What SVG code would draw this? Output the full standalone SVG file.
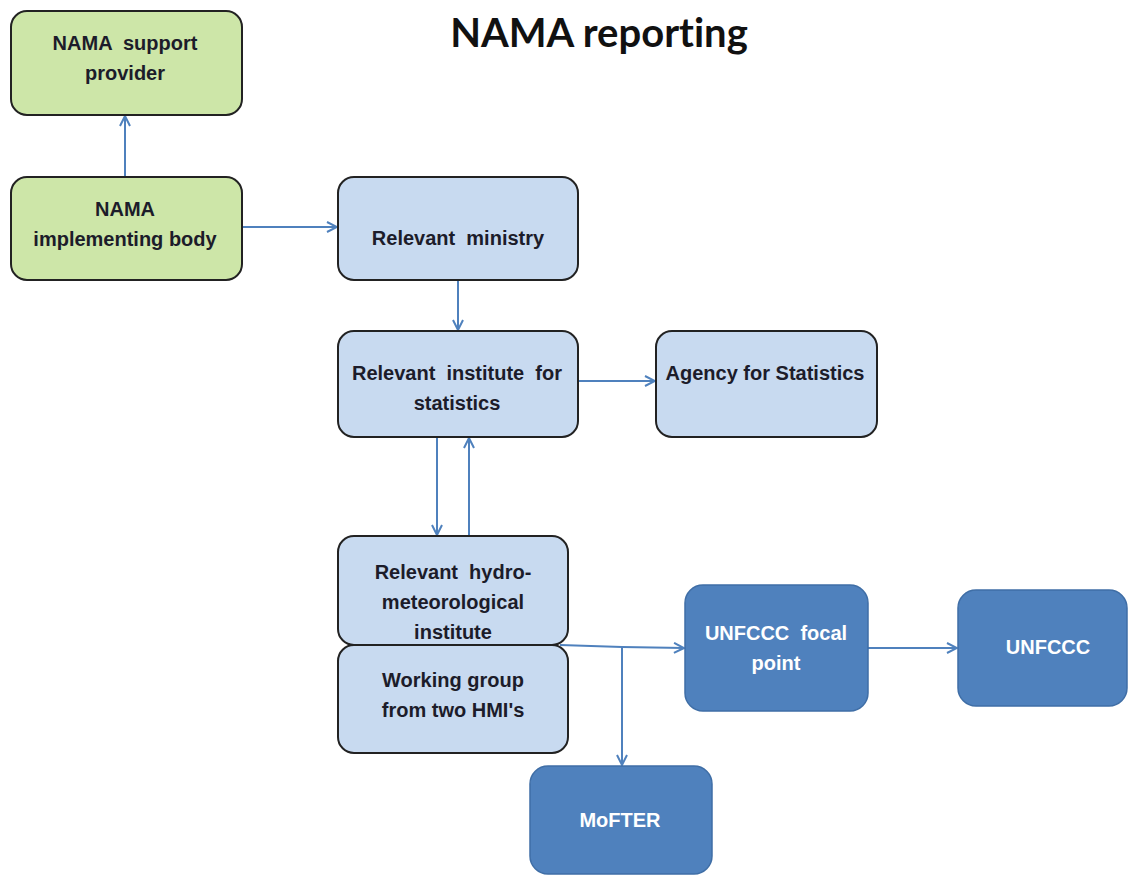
<svg xmlns="http://www.w3.org/2000/svg" width="1128" height="876" viewBox="0 0 1128 876">
<style>
.green{fill:#cde6a8;stroke:#222;stroke-width:2}
.light{fill:#c8daf0;stroke:#222;stroke-width:2}
.dark{fill:#4f81bd;stroke:#3f6ea6;stroke-width:1.5}
.t{font-family:"Liberation Sans",Arial,sans-serif;font-weight:bold;font-size:20px;fill:#1c1c2a;text-anchor:middle;dominant-baseline:central;white-space:pre}
.w{fill:#ffffff}
.title{font-family:Lato,"Open Sans",sans-serif;font-weight:bold;font-size:40px;fill:#111;text-anchor:middle;font-variant-ligatures:none;font-feature-settings:"liga" 0,"clig" 0,"dlig" 0}
.c{stroke:#4f81bd;stroke-width:2;fill:none;marker-end:url(#a)}
</style>
<defs>
<marker id="a" viewBox="0 0 12 12" refX="11" refY="6" markerWidth="12" markerHeight="12" markerUnits="userSpaceOnUse" orient="auto">
<path d="M1,1 L11,6 L1,11" fill="none" stroke="#4f81bd" stroke-width="2"/>
</marker>
</defs>
<rect width="1128" height="876" fill="#ffffff"/>
<text class="title" x="599" y="47">NAMA reporting</text>
<g id="connectors">
<line class="c" x1="125" y1="177" x2="125" y2="116"/>
<line class="c" x1="242" y1="227" x2="337" y2="227"/>
<line class="c" x1="458" y1="280" x2="458" y2="330"/>
<line class="c" x1="578" y1="381" x2="655" y2="381"/>
<line class="c" x1="437" y1="437" x2="437" y2="535"/>
<line class="c" x1="469" y1="536" x2="469" y2="438"/>
<polyline class="c" points="560,645 622,647 684,648"/>
<line class="c" x1="622" y1="647" x2="622" y2="765"/>
<line class="c" x1="868" y1="648" x2="957" y2="648"/>
</g>
<g id="nama-support-provider">
<rect class="green" x="11" y="11" width="231" height="104" rx="16"/>
<text class="t" x="125" y="43">NAMA  support</text>
<text class="t" x="125" y="73">provider</text>
</g>
<g id="nama-implementing-body">
<rect class="green" x="11" y="177" width="231" height="103" rx="16"/>
<text class="t" x="125" y="209">NAMA</text>
<text class="t" x="125" y="239">implementing body</text>
</g>
<g id="relevant-ministry">
<rect class="light" x="338" y="177" width="240" height="103" rx="16"/>
<text class="t" x="458" y="238">Relevant  ministry</text>
</g>
<g id="relevant-institute-statistics">
<rect class="light" x="338" y="331" width="240" height="106" rx="16"/>
<text class="t" x="457" y="373">Relevant  institute  for</text>
<text class="t" x="457" y="403">statistics</text>
</g>
<g id="agency-for-statistics">
<rect class="light" x="656" y="331" width="221" height="106" rx="16"/>
<text class="t" x="765" y="373">Agency for Statistics</text>
</g>
<g id="hydro-met-institute">
<rect class="light" x="338" y="536" width="230" height="109" rx="16"/>
<text class="t" x="453" y="572">Relevant  hydro-</text>
<text class="t" x="453" y="602">meteorological</text>
<text class="t" x="453" y="632">institute</text>
</g>
<g id="working-group">
<rect class="light" x="338" y="645" width="230" height="108" rx="16"/>
<text class="t" x="453" y="680">Working group</text>
<text class="t" x="453" y="710">from two HMI's</text>
</g>
<g id="unfccc-focal-point">
<rect class="dark" x="685" y="585" width="183" height="126" rx="18"/>
<text class="t w" x="776" y="633">UNFCCC  focal</text>
<text class="t w" x="776" y="663">point</text>
</g>
<g id="unfccc">
<rect class="dark" x="958" y="590" width="169" height="116" rx="18"/>
<text class="t w" x="1048" y="647">UNFCCC</text>
</g>
<g id="mofter">
<rect class="dark" x="530" y="766" width="182" height="108" rx="18"/>
<text class="t w" x="620" y="820">MoFTER</text>
</g>
</svg>
